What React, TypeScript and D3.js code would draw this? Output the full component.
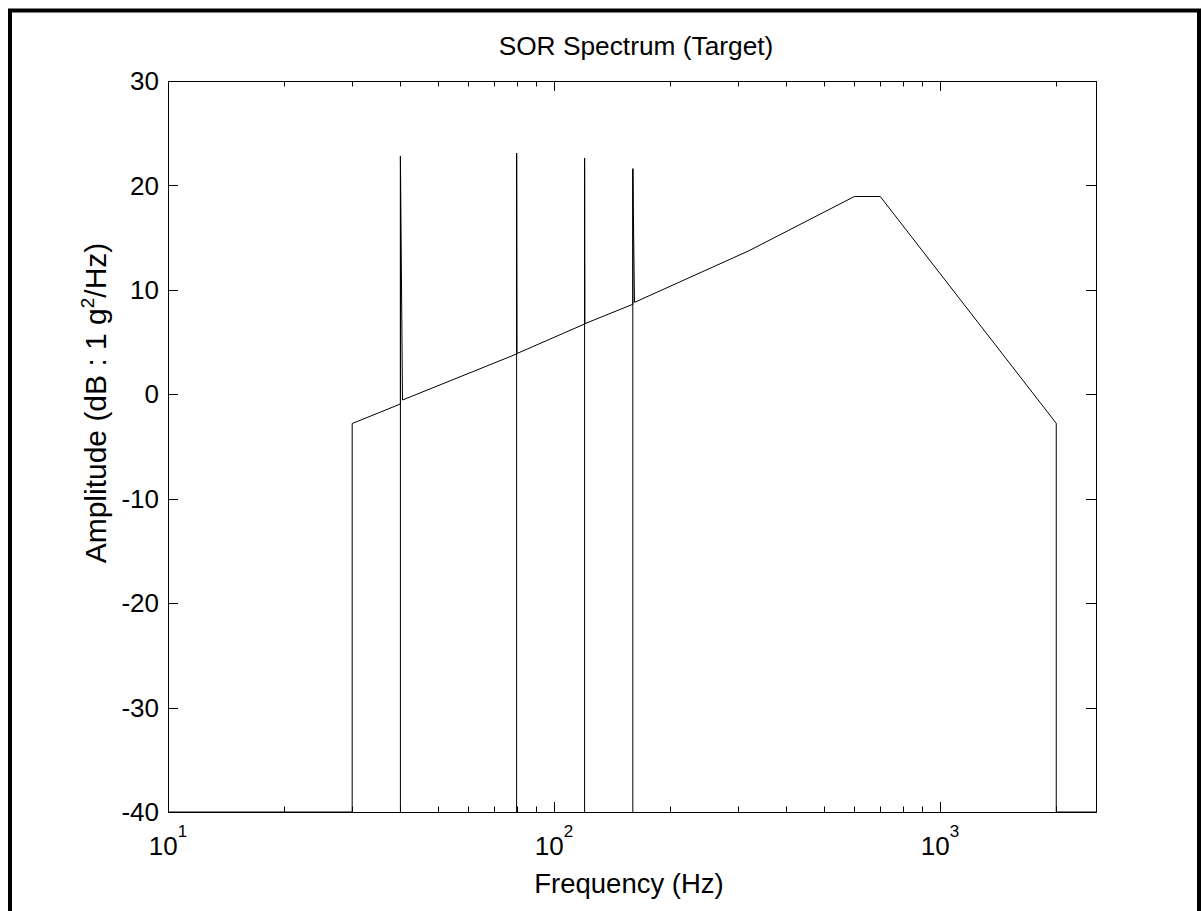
import React from "react";
import * as d3 from "d3";

const titleText = "SOR Spectrum (Target)";
const xLabelText = "Frequency (Hz)";

// Profile of the target spectrum (frequency Hz, amplitude dB)
const profileFreq = [10, 30, 30, 40, 40, 40.5, 80, 80, 80.15, 120, 120, 120.15, 160, 160, 161.6, 320, 600, 700, 2000, 2000, 2535];
const profileDb = [-40, -40, -2.8, -0.93, 22.8, -0.55, 3.86, 23.1, 3.9, 6.73, 22.6, 6.76, 8.62, 21.6, 8.8, 13.75, 18.94, 18.94, -2.78, -40, -40];

// Sine tones (stems from floor to peak)
const toneFreq = [40, 80, 120, 160];
const tonePeak = [22.8, 23.1, 22.6, 21.6];

const yTicks = [-40, -30, -20, -10, 0, 10, 20, 30];
const xMajorTicks = [10, 100, 1000];
const xMajorExp = ["1", "2", "3"];
const xMinorTicks = [20, 30, 40, 50, 60, 70, 80, 90, 200, 300, 400, 500, 600, 700, 800, 900, 2000];

const X_DOMAIN: [number, number] = [10, 2535];
const Y_DOMAIN: [number, number] = [-40, 30];

export default function App() {
  const left = 168, right = 1096, top = 81, bottom = 812;
  const x = d3.scaleLog().domain(X_DOMAIN).range([left, right]);
  const y = d3.scaleLinear().domain(Y_DOMAIN).range([bottom, top]);
  const font = "'Liberation Sans', Arial, Helvetica, sans-serif";
  const fs = 26;

  const pts: [number, number][] = profileFreq.map((f, i) => [f, profileDb[i]]);
  const line = d3.line<[number, number]>().x((d) => x(d[0])).y((d) => y(d[1]));
  const profilePath = line(pts) || "";

  const majLen = 10, minLen = 5.5;

  return (
    <svg
      width={1201}
      height={911}
      style={{ position: "fixed", left: 0, top: 0, background: "#fff" }}
      fontFamily={font}
    >
      <rect x={0} y={0} width={1201} height={911} fill="#fff" />
      <rect x={10} y={10.5} width={1189} height={1000} fill="none" stroke="#000" strokeWidth={4} />

      {/* data */}
      <g fill="none" stroke="#000" strokeWidth={1}>
        {toneFreq.map((f, i) => (
          <line key={"t" + i} x1={x(f)} x2={x(f)} y1={y(-40)} y2={y(tonePeak[i])} />
        ))}
        <path d={profilePath} />
      </g>

      {/* axes box */}
      <rect x={left + 0.5} y={top + 0.5} width={right - left} height={bottom - top} fill="none" stroke="#000" strokeWidth={1} />

      {/* ticks */}
      <g stroke="#000" strokeWidth={1}>
        {yTicks.map((t) => {
          const yy = Math.round(y(t)) + 0.5;
          return (
            <g key={"y" + t}>
              <line x1={left} x2={left + majLen} y1={yy} y2={yy} />
              <line x1={right - majLen} x2={right} y1={yy} y2={yy} />
            </g>
          );
        })}
        {xMajorTicks.map((t) => {
          const xx = Math.round(x(t)) + 0.5;
          return (
            <g key={"xm" + t}>
              <line x1={xx} x2={xx} y1={bottom} y2={bottom - majLen} />
              <line x1={xx} x2={xx} y1={top} y2={top + majLen} />
            </g>
          );
        })}
        {xMinorTicks.map((t) => {
          const xx = Math.round(x(t)) + 0.5;
          return (
            <g key={"xn" + t}>
              <line x1={xx} x2={xx} y1={bottom} y2={bottom - minLen} />
              <line x1={xx} x2={xx} y1={top} y2={top + minLen} />
            </g>
          );
        })}
      </g>

      {/* y tick labels */}
      <g fontSize={fs} fill="#000" textAnchor="end">
        {yTicks.map((t) => (
          <text key={"yl" + t} x={left - 9} y={y(t)} dy="0.35em">
            {t}
          </text>
        ))}
      </g>

      {/* x tick labels */}
      <g fontSize={fs} fill="#000" textAnchor="middle">
        {xMajorTicks.map((t, i) => (
          <text key={"xl" + t} x={x(t)} y={855}>
            10
            <tspan fontSize={17} dy={-18}>{xMajorExp[i]}</tspan>
          </text>
        ))}
      </g>

      {/* title */}
      <text x={636} y={55} fontSize={26.3} textAnchor="middle" fill="#000">
        {titleText}
      </text>

      {/* x label */}
      <text x={629} y={893} fontSize={27.5} textAnchor="middle" fill="#000">
        {xLabelText}
      </text>

      {/* y label */}
      <text
        transform={`translate(106, 403) rotate(-90)`}
        fontSize={30}
        textAnchor="middle"
        fill="#000"
      >
        Amplitude (dB : 1 g
        <tspan fontSize={19} dy={-12}>2</tspan>
        <tspan dy={12}>/Hz)</tspan>
      </text>
    </svg>
  );
}
